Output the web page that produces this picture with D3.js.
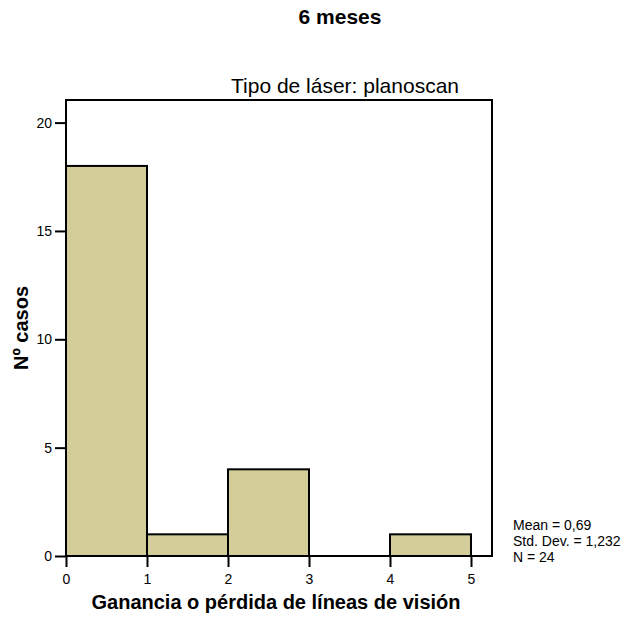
<!DOCTYPE html>
<html>
<head>
<meta charset="utf-8">
<script src="https://cdn.jsdelivr.net/npm/d3@7"></script>
<style>
    body { margin: 0; background: #fff; }
    text { font-family: Arial, "Liberation Sans", sans-serif; fill: #000; }
</style>
</head>
<body>
<div id="chart"></div>
<script>
// Histogram data
const binStarts = [0, 1, 2, 3, 4];
const binEnds = [1, 2, 3, 4, 5];
const counts = [18, 1, 4, 0, 1];
const xTicks = [0, 1, 2, 3, 4, 5];
const yTicks = [0, 5, 10, 15, 20];
const statsLines = ["Mean = 0,69", "Std. Dev. = 1,232", "N = 24"];

// Frame of the plot area
const frameLeft = 66;
const frameRight = 492;
const frameTop = 100;
const frameBottom = 556;

let svg = d3.select("#chart")
    .append("svg")
    .attr("width", 629)
    .attr("height", 617);

let x = d3.scaleLinear().domain([0, 5]).range([frameLeft, frameLeft + 405]);
let y = d3.scaleLinear().domain([0, 20]).range([frameBottom, frameBottom - 433.4]);

// Bars
svg.selectAll("rect.bar")
    .data(counts)
    .enter()
    .append("rect")
    .attr("class", "bar")
    .attr("x", (d, i) => x(binStarts[i]))
    .attr("y", (d) => y(d))
    .attr("width", (d, i) => x(binEnds[i]) - x(binStarts[i]))
    .attr("height", (d) => frameBottom - y(d))
    .attr("fill", "#d3ce99")
    .attr("stroke", "#000")
    .attr("stroke-width", 2);

// Frame
svg.append("rect")
    .attr("x", frameLeft)
    .attr("y", frameTop)
    .attr("width", frameRight - frameLeft)
    .attr("height", frameBottom - frameTop)
    .attr("fill", "none")
    .attr("stroke", "#000")
    .attr("stroke-width", 2);

// Axes
let yAxis = svg.append("g")
    .attr("transform", `translate(${frameLeft},0)`)
    .call(d3.axisLeft(y).tickValues(yTicks).tickFormat(d3.format("d")).tickSize(11).tickPadding(3));
let xAxis = svg.append("g")
    .attr("transform", `translate(0,${frameBottom})`)
    .call(d3.axisBottom(x).tickValues(xTicks).tickFormat(d3.format("d")).tickSize(11).tickPadding(7));

[xAxis, yAxis].forEach((g) => {
    g.select(".domain").remove();
    g.selectAll("line").attr("stroke", "#000").attr("stroke-width", 2);
    g.selectAll("text").style("font-size", "14px").attr("font-family", null);
});

// Titles
svg.append("text")
    .attr("x", 340)
    .attr("y", 24)
    .attr("text-anchor", "middle")
    .style("font-size", "21px")
    .style("font-weight", "bold")
    .text("6 meses");

svg.append("text")
    .attr("x", 345)
    .attr("y", 93)
    .attr("text-anchor", "middle")
    .style("font-size", "21px")
    .text("Tipo de láser: planoscan");

svg.append("text")
    .attr("x", 276)
    .attr("y", 609)
    .attr("text-anchor", "middle")
    .style("font-size", "20px")
    .style("font-weight", "bold")
    .text("Ganancia o pérdida de líneas de visión");

svg.append("text")
    .attr("transform", "translate(28,328) rotate(-90)")
    .attr("text-anchor", "middle")
    .style("font-size", "20px")
    .style("font-weight", "bold")
    .text("Nº casos");

// Summary statistics
svg.selectAll("text.stats")
    .data(statsLines)
    .enter()
    .append("text")
    .attr("class", "stats")
    .attr("x", 513)
    .attr("y", (d, i) => 530 + i * 16)
    .style("font-size", "14px")
    .text((d) => d);
</script>
</body>
</html>
